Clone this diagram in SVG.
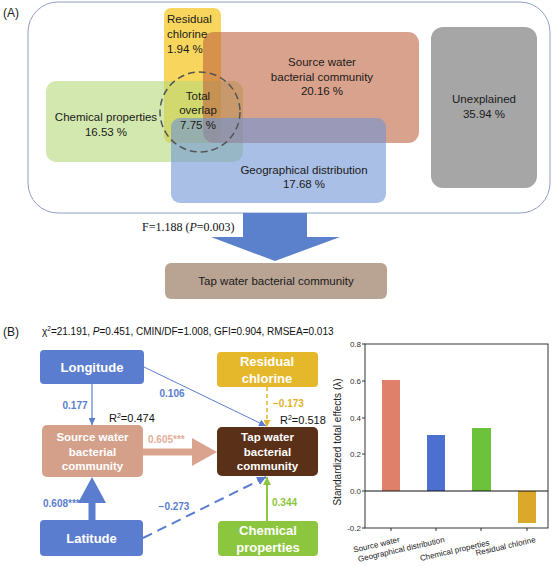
<svg xmlns="http://www.w3.org/2000/svg" width="554" height="566" viewBox="0 0 554 566">
<style>
text{font-family:"Liberation Sans",Arial,sans-serif;}
.ta{font-size:11.5px;fill:#1a1a1a;text-anchor:middle;}
.tal{font-size:11.5px;fill:#1a1a1a;}
.panel{font-size:12px;fill:#1a1a1a;}
.nb{font-size:13px;font-weight:bold;fill:#ffffff;text-anchor:middle;}
.ns{font-size:11.5px;font-weight:bold;fill:#ffffff;text-anchor:middle;}
.lab{font-size:10px;font-weight:bold;}
.r2{font-size:11px;fill:#111;}
.tick{font-size:8px;fill:#333;text-anchor:end;}
.xl{font-size:8px;fill:#222;text-anchor:end;}
</style>
<defs>
<marker id="ab" viewBox="0 0 10 10" refX="10" refY="5" markerWidth="7" markerHeight="7" markerUnits="userSpaceOnUse" orient="auto"><path d="M0,0L10,5L0,10z" fill="#5b7dd0"/></marker>
<marker id="ay" viewBox="0 0 10 10" refX="10" refY="5" markerWidth="7" markerHeight="7" markerUnits="userSpaceOnUse" orient="auto"><path d="M0,0L10,5L0,10z" fill="#e2b22c"/></marker>
<marker id="ag" viewBox="0 0 10 10" refX="10" refY="5" markerWidth="8" markerHeight="8" markerUnits="userSpaceOnUse" orient="auto"><path d="M0,0L10,5L0,10z" fill="#8cc63e"/></marker>
<marker id="abd" viewBox="0 0 10 10" refX="10" refY="5" markerWidth="9" markerHeight="9" markerUnits="userSpaceOnUse" orient="auto"><path d="M0,0L10,5L0,10z" fill="#5b7dd0"/></marker>
</defs>

<!-- Panel A -->
<text class="panel" x="3" y="17">(A)</text>
<rect id="frame" x="28" y="2" width="522" height="211" rx="30" fill="#ffffff" stroke="#8e9ec6" stroke-width="1"/>

<g id="residual-chlorine-a">
<rect x="164" y="8" width="57" height="135" rx="7" fill="#f5c518" fill-opacity="0.7"/>
</g>
<g id="chemical-a">
<rect x="46" y="81" width="197" height="81" rx="10" fill="#b5d97a" fill-opacity="0.6"/>
</g>
<g id="source-water-a">
<rect x="203" y="32" width="216" height="111" rx="11" fill="#c0643f" fill-opacity="0.6"/>
</g>
<g id="geographical-a">
<rect x="171" y="118" width="215" height="85" rx="9" fill="#6f95d5" fill-opacity="0.6"/>
</g>
<g id="unexplained-a">
<rect x="431" y="27" width="106" height="161" rx="12" fill="#a6a6a6"/>
<text class="ta" x="484" y="103">Unexplained</text>
<text class="ta" x="484" y="118">35.94 %</text>
</g>
<g id="total-overlap">
<circle cx="200" cy="112" r="40" fill="none" stroke="#555" stroke-width="1.5" stroke-dasharray="7,4"/>
<text class="ta" x="198" y="100">Total</text>
<text class="ta" x="198" y="114">overlap</text>
<text class="ta" x="198" y="129">7.75 %</text>
</g>
<g id="venn-labels">
<text class="tal" x="167" y="23">Residual</text>
<text class="tal" x="167" y="38">chlorine</text>
<text class="tal" x="167" y="53">1.94 %</text>
<text class="ta" x="322" y="66">Source water</text>
<text class="ta" x="322" y="81">bacterial community</text>
<text class="ta" x="322" y="95">20.16 %</text>
<text class="ta" x="106" y="121">Chemical properties</text>
<text class="ta" x="106" y="136">16.53 %</text>
<text class="ta" x="304" y="174">Geographical distribution</text>
<text class="ta" x="304" y="188">17.68 %</text>
</g>

<g id="tap-water-a">
<rect x="165" y="263" width="222" height="36" rx="6" fill="#b9a393"/>
<text class="ta" x="276" y="285">Tap water bacterial community</text>
</g>

<!-- Panel B -->
<text class="panel" x="3" y="336">(B)</text>
<text x="42" y="335" style="font-size:10px;fill:#111">χ<tspan dy="-4" style="font-size:6.5px">2</tspan><tspan dy="4">=21.191, </tspan><tspan font-style="italic">P</tspan>=0.451, CMIN/DF=1.008, GFI=0.904, RMSEA=0.013</text>

<g id="connectors">
<polygon points="243,213 307,213 307,237 340,237 275,261 211,237 243,237" fill="#5b80cc"/>
<text x="142" y="231" style="font-family:'Liberation Serif','Times New Roman',serif;font-size:12px;fill:#111">F=1.188 (<tspan font-style="italic">P</tspan>=0.003)</text>

<line x1="92" y1="384" x2="92" y2="425" stroke="#5b7dd0" stroke-width="1.2" marker-end="url(#ab)"/>
<line x1="144" y1="367" x2="266" y2="426" stroke="#5b7dd0" stroke-width="1" marker-end="url(#ab)"/>
<line x1="267" y1="387" x2="267" y2="427" stroke="#e2b22c" stroke-width="1.5" stroke-dasharray="4,3" marker-end="url(#ay)"/>
<polygon points="143,448.5 192,448.5 192,438 217,452 192,466 192,455.5 143,455.5" fill="#d9a38e"/>
<polygon points="88.5,520 88.5,503 78,503 92,477 106,503 95.5,503 95.5,520" fill="#5b7dd0"/>
<line x1="143" y1="538" x2="266" y2="477" stroke="#5b7dd0" stroke-width="2" stroke-dasharray="10,6" marker-end="url(#abd)"/>
<line x1="267" y1="521" x2="267" y2="477" stroke="#8cc63e" stroke-width="2" marker-end="url(#ag)"/>

<text class="lab" x="75" y="409" text-anchor="middle" fill="#5b7dd0">0.177</text>
<text class="lab" x="172" y="397" text-anchor="middle" fill="#5b7dd0">0.106</text>
<text class="lab" x="273" y="407" fill="#e2b22c">−0.173</text>
<text class="lab" x="148" y="443" fill="#e5ad98">0.605***</text>
<text class="lab" x="43" y="507" fill="#5b7dd0">0.608***</text>
<text class="lab" x="174" y="510" text-anchor="middle" fill="#5b7dd0">−0.273</text>
<text class="lab" x="272" y="506" fill="#8cc63e">0.344</text>
<text class="r2" x="109" y="422">R<tspan dy="-4" style="font-size:7px">2</tspan><tspan dy="4">=0.474</tspan></text>
<text class="r2" x="280" y="424">R<tspan dy="-4" style="font-size:7px">2</tspan><tspan dy="4">=0.518</tspan></text>
</g>

<g id="longitude">
<rect x="40" y="350" width="104" height="34" rx="4" fill="#5b7dd0"/>
<text class="nb" x="92" y="372">Longitude</text>
</g>
<g id="residual-chlorine">
<rect x="217" y="352" width="101" height="35" rx="4" fill="#e5b72a"/>
<text class="nb" x="267" y="366">Residual</text>
<text class="nb" x="267" y="383">chlorine</text>
</g>
<g id="source-water">
<rect x="42" y="425" width="101" height="52" rx="5" fill="#d5a08a"/>
<text class="ns" x="92.5" y="441">Source water</text>
<text class="ns" x="92.5" y="456">bacterial</text>
<text class="ns" x="92.5" y="470">community</text>
</g>
<g id="tap-water">
<rect x="217" y="427" width="101" height="49" rx="5" fill="#5a3118"/>
<text class="ns" x="267.5" y="441">Tap water</text>
<text class="ns" x="267.5" y="456">bacterial</text>
<text class="ns" x="267.5" y="470">community</text>
</g>
<g id="latitude">
<rect x="40" y="520" width="103" height="36" rx="4" fill="#5b7dd0"/>
<text class="nb" x="91.5" y="543">Latitude</text>
</g>
<g id="chemical-properties">
<rect x="218" y="521" width="100" height="35" rx="4" fill="#8cc63e"/>
<text class="nb" x="268" y="535">Chemical</text>
<text class="nb" x="268" y="552">properties</text>
</g>

<!-- Bar chart -->
<g id="bar-chart">
<rect x="382" y="380" width="18" height="111" fill="#df806b"/>
<rect x="427" y="435" width="18" height="56" fill="#4d6fd0"/>
<rect x="472" y="428" width="19" height="63" fill="#6cc23a"/>
<rect x="518" y="491" width="18" height="32" fill="#dba92a"/>
<rect x="365" y="344" width="183" height="184" fill="none" stroke="#333" stroke-width="1"/>
<line x1="365" y1="491" x2="548" y2="491" stroke="#111" stroke-width="1.2"/>
<g stroke="#333" stroke-width="1">
<line x1="362" y1="344" x2="365" y2="344"/>
<line x1="362" y1="381" x2="365" y2="381"/>
<line x1="362" y1="418" x2="365" y2="418"/>
<line x1="362" y1="454" x2="365" y2="454"/>
<line x1="362" y1="491" x2="365" y2="491"/>
<line x1="362" y1="528" x2="365" y2="528"/>
<line x1="391" y1="528" x2="391" y2="531"/>
<line x1="436" y1="528" x2="436" y2="531"/>
<line x1="481" y1="528" x2="481" y2="531"/>
<line x1="527" y1="528" x2="527" y2="531"/>
</g>
<text class="tick" x="361" y="347">0.8</text>
<text class="tick" x="361" y="384">0.6</text>
<text class="tick" x="361" y="421">0.4</text>
<text class="tick" x="361" y="457">0.2</text>
<text class="tick" x="361" y="494">0.0</text>
<text class="tick" x="361" y="531">-0.2</text>
<text x="0" y="0" transform="translate(341,442) rotate(-90)" style="font-size:10px;fill:#222;text-anchor:middle">Standardized total effects (λ)</text>
<text class="xl" transform="translate(400,542) rotate(-13)">Source water</text>
<text class="xl" transform="translate(445,542) rotate(-13)">Geographical distribution</text>
<text class="xl" transform="translate(490,545) rotate(-13)">Chemical properties</text>
<text class="xl" transform="translate(536,542) rotate(-13)">Residual chlorine</text>
</g>
</svg>
